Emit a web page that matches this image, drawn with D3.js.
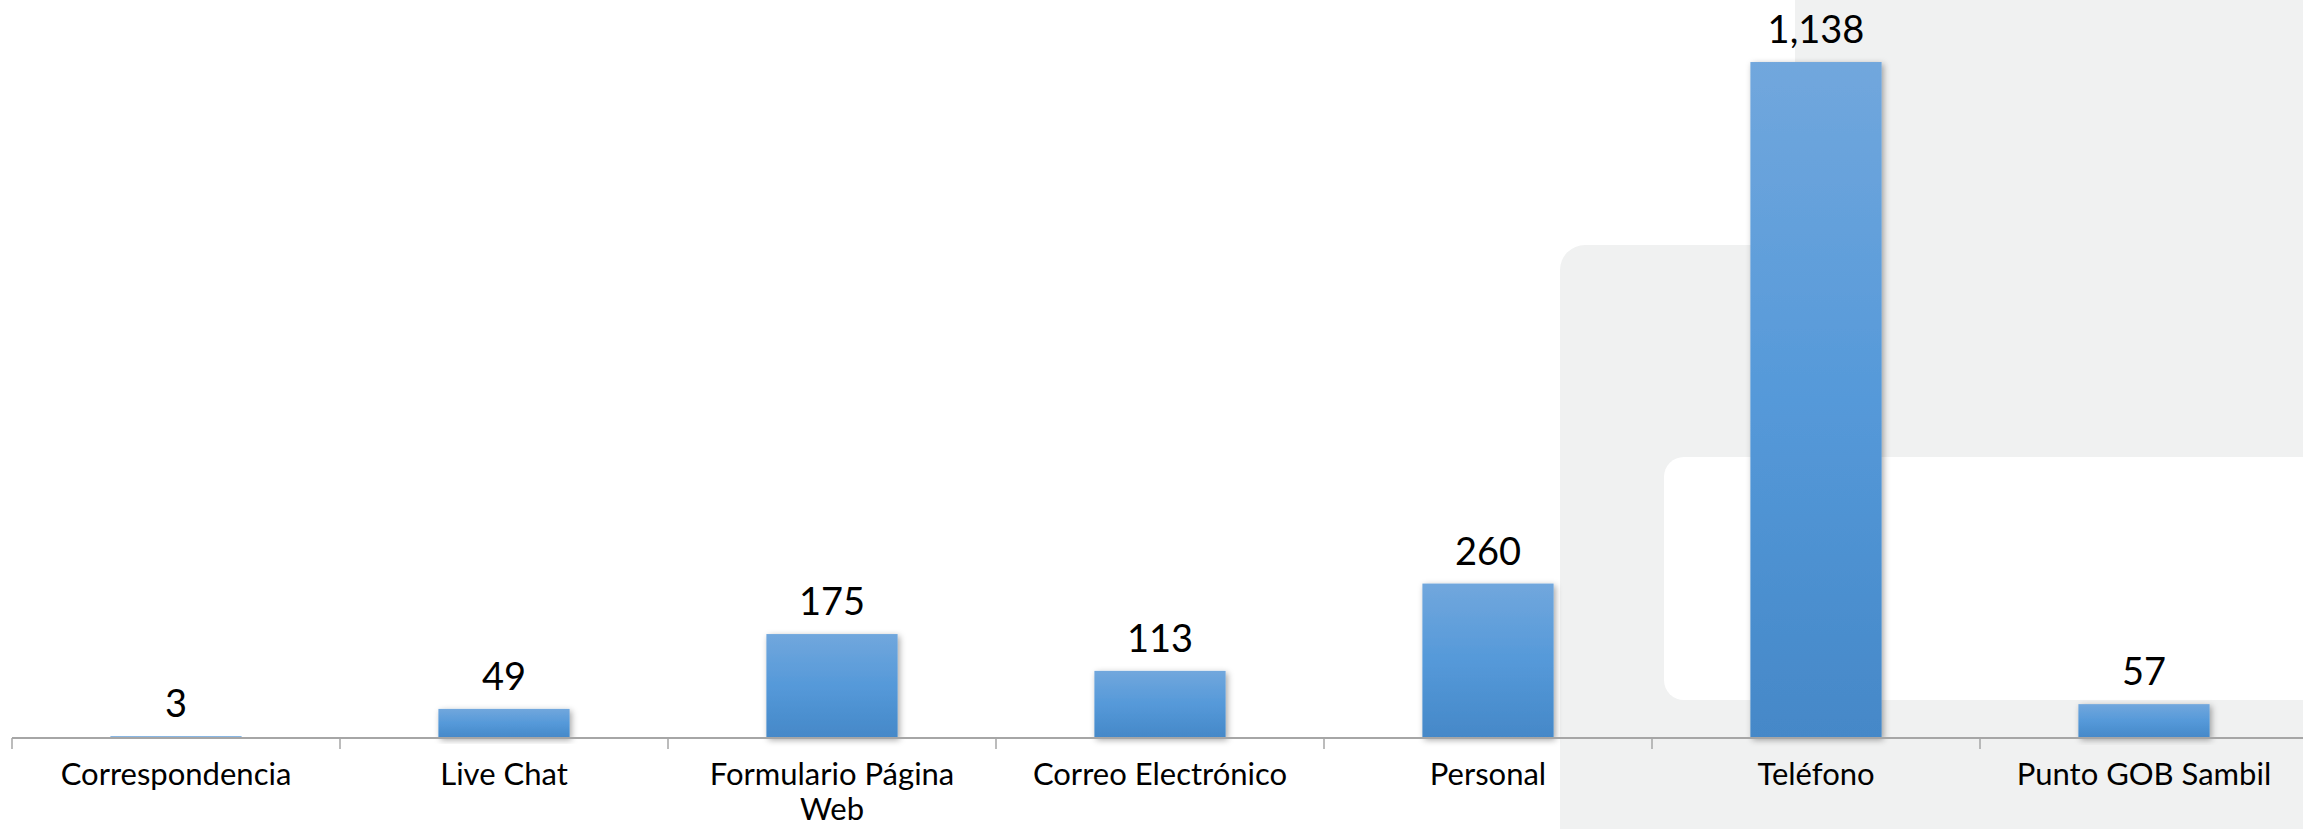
<!DOCTYPE html>
<html>
<head>
<meta charset="utf-8">
<script src="https://cdn.jsdelivr.net/npm/d3@7"></script>
<style>
  html, body { margin: 0; padding: 0; background: #ffffff; }
  svg { display: block; }
  text { font-family: Lato, "Liberation Sans", sans-serif; }
</style>
</head>
<body>
<svg id="chart" width="2303" height="829"></svg>
<script>
const categories = ["Correspondencia", "Live Chat", "Formulario Página Web", "Correo Electrónico", "Personal", "Teléfono", "Punto GOB Sambil"];
const values = [3, 49, 175, 113, 260, 1138, 57];
const yDomain = [0, 1200];

const W = 2303, H = 829;
const svg = d3.select("#chart");

// decorative slide background
const bg = svg.append("g");
bg.append("rect").attr("x", 1795).attr("y", -10).attr("width", 600).attr("height", 300).attr("fill", "#f0f1f1");
bg.append("rect").attr("x", 1560).attr("y", 245).attr("width", 800).attr("height", 700).attr("rx", 25).attr("fill", "#f0f1f1");
bg.append("rect").attr("x", 1664).attr("y", 457).attr("width", 700).attr("height", 243).attr("rx", 20).attr("fill", "#ffffff");

const defs = svg.append("defs");
const grad = defs.append("linearGradient").attr("id", "barGrad").attr("x1", 0).attr("y1", 0).attr("x2", 0).attr("y2", 1);
grad.append("stop").attr("offset", "0%").attr("stop-color", "#71a7dd");
grad.append("stop").attr("offset", "50%").attr("stop-color", "#5599d9");
grad.append("stop").attr("offset", "100%").attr("stop-color", "#4588c8");
const f = defs.append("filter").attr("id", "shadow").attr("x", "-20%").attr("y", "-20%").attr("width", "140%").attr("height", "140%");
f.append("feDropShadow").attr("dx", 2).attr("dy", 2).attr("stdDeviation", 3).attr("flood-color", "#000").attr("flood-opacity", 0.35);

const x = d3.scaleBand().domain(categories).range([12, 12 + 7 * 328]).padding(0);
const y = d3.scaleLinear().domain(yDomain).range([738, 738 - 1200 * 0.594]);
const barW = x.bandwidth() * 0.4;

// bars
svg.append("g").selectAll("rect").data(categories).join("rect")
  .attr("x", (d) => x(d) + (x.bandwidth() - barW) / 2)
  .attr("y", (d, i) => y(values[i]))
  .attr("width", barW)
  .attr("height", (d, i) => y(0) - y(values[i]))
  .attr("fill", "url(#barGrad)")
  .attr("filter", (d, i) => values[i] > 10 ? "url(#shadow)" : null);

// value labels
svg.append("g").selectAll("text").data(categories).join("text")
  .attr("x", (d) => x(d) + x.bandwidth() / 2)
  .attr("y", (d, i) => y(values[i]) - 19)
  .attr("text-anchor", "middle")
  .attr("font-size", 38)
  .attr("fill", "#000")
  .text((d, i) => d3.format(",")(values[i]));

// axis
const axis = d3.axisBottom(x).tickSize(0).tickPadding(0);
const ag = svg.append("g").attr("transform", `translate(0,${y(0)})`).call(axis);
ag.select(".domain").remove();
ag.selectAll(".tick text").remove();
ag.append("line").attr("x1", 12).attr("x2", W).attr("y1", 0).attr("y2", 0)
  .attr("stroke", "#a6a6a6").attr("stroke-width", 2);
ag.selectAll(".bound").data(categories).join("line").attr("class", "bound")
  .attr("x1", (d) => x(d)).attr("x2", (d) => x(d))
  .attr("y1", 0).attr("y2", 11)
  .attr("stroke", "#a6a6a6").attr("stroke-width", 1.5);

// category labels with wrapping
const labelG = svg.append("g");
categories.forEach((c) => {
  const t = labelG.append("text")
    .attr("x", x(c) + x.bandwidth() / 2)
    .attr("y", y(0) + 47)
    .attr("text-anchor", "middle")
    .attr("font-size", 31)
    .attr("fill", "#000");
  const words = c.split(" ");
  let line = [];
  let ts = t.append("tspan").attr("x", x(c) + x.bandwidth() / 2).attr("dy", 0);
  words.forEach((w) => {
    line.push(w);
    ts.text(line.join(" "));
    if (ts.node().getComputedTextLength() > 295 && line.length > 1) {
      line.pop();
      ts.text(line.join(" "));
      line = [w];
      ts = t.append("tspan").attr("x", x(c) + x.bandwidth() / 2).attr("dy", 35).text(w);
    }
  });
});
</script>
</body>
</html>
